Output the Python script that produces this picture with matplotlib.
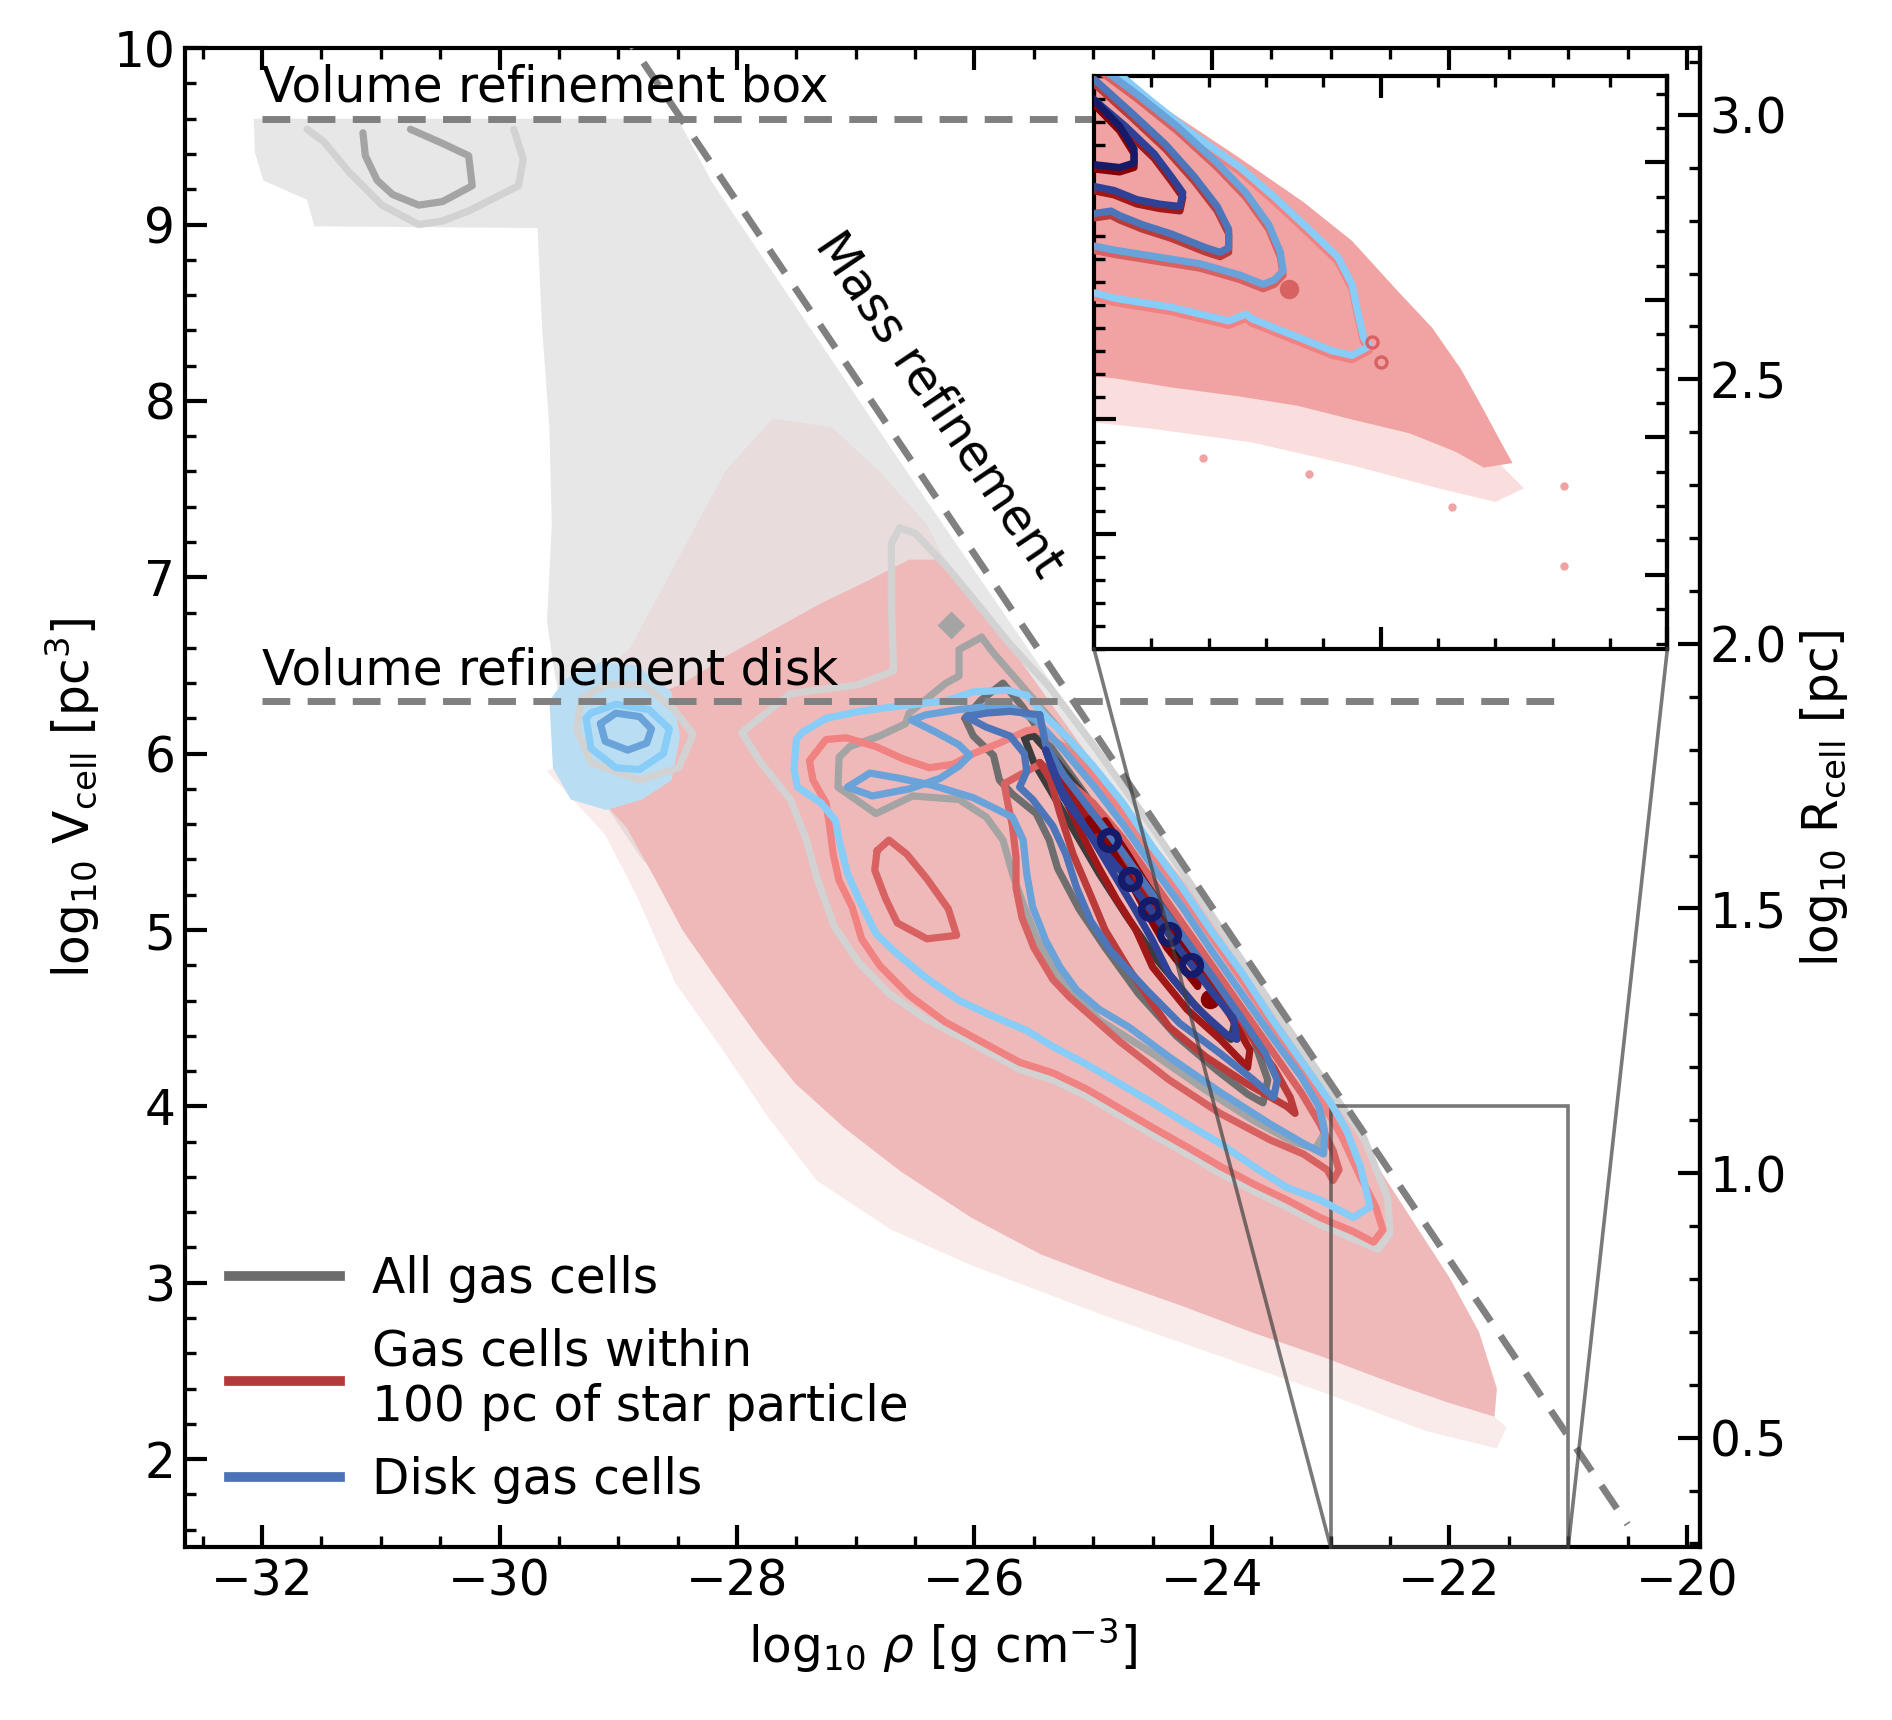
import numpy as np
import matplotlib
matplotlib.use("Agg")
import matplotlib.pyplot as plt
from matplotlib.lines import Line2D
from matplotlib.patches import ConnectionPatch
from matplotlib.ticker import MultipleLocator, FixedLocator
from matplotlib.transforms import offset_copy

# ---------------- values (log rho, log V) ----------------
# scatter clouds, drawn as outlines
gray_cloud = [(-32.07, 9.60), (-32.06, 9.41), (-31.99, 9.25), (-31.62, 9.14), (-31.56, 8.99),
              (-29.68, 8.98), (-29.64, 8.40), (-29.58, 7.85), (-29.56, 7.30), (-29.60, 6.75),
              (-29.54, 6.47), (-29.40, 6.00), (-28.80, 5.40), (-27.80, 4.80), (-26.50, 4.20),
              (-24.50, 3.60), (-23.00, 3.50), (-23.30, 4.36), (-23.60, 4.66), (-24.10, 5.16),
              (-24.70, 5.76), (-25.30, 6.35), (-25.90, 6.94), (-26.57, 7.60), (-27.39, 8.42),
              (-28.21, 9.24), (-28.50, 9.60)]
pink_top = [(-29.50, 6.20), (-29.20, 6.28), (-28.80, 6.30), (-28.45, 6.40), (-28.10, 6.55),
            (-27.70, 6.70), (-27.30, 6.85), (-26.90, 6.98), (-26.55, 7.10), (-26.25, 7.10),
            (-25.90, 6.80), (-25.50, 6.42), (-25.00, 5.95), (-24.50, 5.50), (-24.00, 5.08),
            (-23.50, 4.58), (-23.00, 4.08), (-22.50, 3.55), (-22.00, 3.03), (-21.75, 2.72),
            (-21.60, 2.40)]
pink_bot = [(-21.62, 2.24), (-22.01, 2.32), (-22.48, 2.43), (-23.07, 2.58), (-23.67, 2.72),
            (-24.26, 2.87), (-24.85, 3.01), (-25.44, 3.16), (-26.03, 3.37), (-26.62, 3.63),
            (-27.10, 3.88), (-27.51, 4.13), (-27.81, 4.38), (-28.16, 4.71), (-28.46, 5.00),
            (-28.69, 5.29), (-28.93, 5.58), (-29.20, 5.78), (-29.46, 5.95)]
pink_fringe_low = [(-29.60, 5.90), (-29.11, 5.54), (-28.85, 5.20), (-28.52, 4.70), (-28.10, 4.30),
                   (-27.75, 3.95), (-27.33, 3.58), (-26.70, 3.30), (-26.03, 3.10), (-24.85, 2.80),
                   (-23.07, 2.38), (-22.20, 2.16), (-21.60, 2.06), (-21.52, 2.18)]
pink_fringe_up = [(-29.30, 6.35), (-28.90, 6.60), (-28.50, 7.10), (-28.10, 7.60), (-27.70, 7.90),
                  (-27.20, 7.85), (-26.80, 7.60), (-26.40, 7.30), (-26.25, 7.10), (-26.55, 7.10),
                  (-26.90, 6.98), (-27.30, 6.85), (-27.70, 6.70), (-28.10, 6.55), (-28.45, 6.40),
                  (-28.80, 6.30)]
disk_cloud = [(-29.58, 6.30), (-29.45, 6.42), (-29.15, 6.52), (-28.85, 6.50), (-28.55, 6.35),
              (-28.48, 6.10), (-28.55, 5.85), (-28.80, 5.74), (-29.10, 5.68), (-29.40, 5.74),
              (-29.55, 5.92)]

# refinement criteria
box_level = 9.6
disk_level = 6.3
crit_x = [-32.0, -21.0]
mass_x = [-29.0, -20.5]
mass_v = [10.13, 1.63]

# ---- contours: all gas cells ----
gray_top_lg = [(-31.62, 9.54), (-31.48, 9.47), (-31.27, 9.30), (-30.99, 9.11), (-30.68, 9.00),
               (-30.48, 9.02), (-30.25, 9.08), (-29.84, 9.22), (-29.80, 9.37), (-29.88, 9.54)]
gray_top_mg = [(-31.15, 9.52), (-31.13, 9.39), (-31.03, 9.25), (-30.90, 9.17), (-30.68, 9.11),
               (-30.48, 9.13), (-30.23, 9.22), (-30.26, 9.39), (-30.48, 9.46), (-30.75, 9.54)]
gray_blob = [(-29.31, 6.31), (-29.35, 6.14), (-29.23, 5.95), (-28.82, 5.85), (-28.49, 5.92),
             (-28.37, 6.11), (-28.53, 6.25), (-28.78, 6.39), (-29.11, 6.39)]
lg_big = [(-26.63, 7.28), (-26.70, 7.19), (-26.70, 6.85), (-26.68, 6.47), (-26.98, 6.39),
          (-27.55, 6.34), (-27.96, 6.12), (-27.80, 5.95), (-27.55, 5.74), (-27.42, 5.52),
          (-27.32, 5.28), (-27.18, 5.02), (-26.98, 4.82), (-26.72, 4.64), (-26.42, 4.50),
          (-26.05, 4.37), (-25.62, 4.21), (-25.34, 4.15), (-25.06, 4.06), (-24.78, 3.95),
          (-24.50, 3.84), (-24.21, 3.73), (-23.93, 3.62), (-23.65, 3.52), (-23.37, 3.43),
          (-23.09, 3.33), (-22.81, 3.25), (-22.60, 3.19), (-22.50, 3.28), (-22.52, 3.48),
          (-22.72, 3.82), (-23.05, 4.14), (-23.50, 4.58), (-24.00, 5.08), (-24.50, 5.58),
          (-25.00, 6.05), (-25.37, 6.38), (-25.70, 6.62), (-25.94, 6.82), (-26.22, 7.05),
          (-26.50, 7.25)]
mg_big = [(-25.94, 6.66), (-26.13, 6.59), (-26.13, 6.44), (-26.24, 6.40), (-26.55, 6.23),
          (-26.58, 6.17), (-26.80, 6.10), (-27.05, 6.04), (-27.14, 5.98), (-27.15, 5.81),
          (-26.83, 5.66), (-26.52, 5.76), (-26.13, 5.74), (-25.90, 5.64), (-25.76, 5.51),
          (-25.68, 5.32), (-25.58, 5.13), (-25.48, 4.96), (-25.30, 4.75), (-24.95, 4.49),
          (-24.50, 4.30), (-24.07, 4.10), (-23.65, 3.92), (-23.32, 3.80), (-23.13, 3.76),
          (-23.05, 3.85), (-23.08, 3.98), (-23.25, 4.22), (-23.50, 4.48), (-23.75, 4.72),
          (-24.00, 4.96), (-24.25, 5.20), (-24.50, 5.43), (-24.75, 5.67), (-25.00, 5.90),
          (-25.30, 6.15), (-25.62, 6.40), (-25.84, 6.57)]
dg_big = [(-26.08, 6.20), (-25.95, 6.30), (-25.76, 6.40), (-25.60, 6.27), (-25.37, 6.05),
          (-25.10, 5.80), (-24.85, 5.56), (-24.60, 5.32), (-24.35, 5.08), (-24.10, 4.84),
          (-23.85, 4.60), (-23.65, 4.38), (-23.53, 4.15), (-23.57, 4.02), (-23.70, 4.07),
          (-23.95, 4.20), (-24.30, 4.40), (-24.62, 4.64), (-24.90, 4.90), (-25.12, 5.12),
          (-25.30, 5.35), (-25.37, 5.51), (-25.48, 5.66), (-25.68, 5.77), (-25.79, 5.85),
          (-25.84, 5.99), (-26.01, 6.10)]
g4_big = [(-25.58, 6.09), (-25.50, 5.95), (-25.35, 5.78), (-25.15, 5.55), (-24.95, 5.32),
          (-24.72, 5.08), (-24.45, 4.82), (-24.15, 4.58), (-23.95, 4.44), (-23.84, 4.38),
          (-23.80, 4.50), (-24.00, 4.75), (-24.30, 5.05), (-24.65, 5.38), (-25.00, 5.70),
          (-25.30, 5.95), (-25.50, 6.10)]
g5_x = [-24.95, -24.28]
g5_v = [5.52, 4.86]
gray_dot_x = [-26.20]
gray_dot_v = [6.73]

# ---- contours: gas within 100 pc of a star particle ----
salmon_big = [(-25.48, 6.14), (-25.56, 6.13), (-25.79, 6.06), (-26.01, 6.00), (-26.18, 5.94),
              (-26.38, 5.92), (-26.60, 5.97), (-26.83, 6.04), (-27.08, 6.09), (-27.25, 6.08),
              (-27.39, 5.96), (-27.36, 5.85), (-27.25, 5.72), (-27.22, 5.59), (-27.19, 5.43),
              (-27.14, 5.28), (-27.03, 5.13), (-26.95, 4.95), (-26.80, 4.80), (-26.55, 4.63),
              (-26.25, 4.48), (-25.95, 4.37), (-25.62, 4.25), (-25.34, 4.19), (-25.06, 4.10),
              (-24.78, 3.99), (-24.50, 3.88), (-24.21, 3.77), (-23.93, 3.66), (-23.65, 3.56),
              (-23.37, 3.47), (-23.09, 3.37), (-22.81, 3.29), (-22.64, 3.23), (-22.56, 3.30),
              (-22.62, 3.43), (-22.75, 3.60), (-22.90, 3.82), (-23.05, 4.00), (-23.25, 4.22),
              (-23.50, 4.47), (-23.75, 4.72), (-24.00, 4.96), (-24.25, 5.20), (-24.50, 5.43),
              (-24.75, 5.67), (-25.00, 5.87), (-25.25, 6.04)]
ir_big = [(-25.45, 5.94), (-25.56, 5.90), (-25.75, 5.83), (-25.72, 5.72), (-25.68, 5.59),
          (-25.65, 5.41), (-25.65, 5.24), (-25.60, 5.07), (-25.50, 4.90), (-25.34, 4.72),
          (-25.20, 4.62), (-24.78, 4.37), (-24.36, 4.15), (-23.93, 3.96), (-23.51, 3.81),
          (-23.23, 3.73), (-23.03, 3.64), (-22.98, 3.58), (-22.93, 3.64), (-22.98, 3.75),
          (-23.09, 3.90), (-23.25, 4.08), (-23.50, 4.32), (-23.75, 4.56), (-24.00, 4.80),
          (-24.25, 5.04), (-24.50, 5.28), (-24.75, 5.52), (-25.00, 5.72), (-25.25, 5.86)]
ir_oval = [(-26.82, 5.45), (-26.72, 5.51), (-26.57, 5.43), (-26.40, 5.29), (-26.22, 5.12),
           (-26.15, 4.97), (-26.40, 4.95), (-26.65, 5.04), (-26.75, 5.18), (-26.84, 5.34)]
fb_big = [(-25.45, 5.95), (-25.36, 5.85), (-25.28, 5.66), (-25.17, 5.43), (-25.03, 5.21),
          (-24.90, 5.00), (-24.72, 4.80), (-24.52, 4.60), (-24.36, 4.45), (-24.05, 4.28),
          (-23.71, 4.13), (-23.37, 4.00), (-23.30, 3.96), (-23.34, 4.05), (-23.48, 4.22),
          (-23.70, 4.42), (-23.95, 4.65), (-24.20, 4.88), (-24.45, 5.12), (-24.70, 5.36),
          (-24.95, 5.58), (-25.20, 5.78)]
dr_big = [(-25.30, 5.90), (-25.22, 5.72), (-25.08, 5.52), (-24.95, 5.35), (-24.80, 5.17),
          (-24.64, 5.00), (-24.50, 4.79), (-24.21, 4.55), (-23.93, 4.38), (-23.70, 4.22),
          (-23.68, 4.32), (-23.85, 4.52), (-24.05, 4.72), (-24.25, 4.92), (-24.50, 5.12),
          (-24.75, 5.36), (-25.00, 5.58), (-25.22, 5.80)]
r5_big = [(-24.95, 5.58), (-24.75, 5.35), (-24.55, 5.10), (-24.38, 4.90), (-24.12, 4.68),
          (-24.10, 4.78), (-24.30, 4.98), (-24.50, 5.20), (-24.70, 5.42), (-24.90, 5.62)]
r5_x = [-25.01, -24.02]
r5_v = [5.60, 4.61]

# ---- contours: disk gas cells ----
lb_blob = [(-29.27, 6.20), (-29.23, 6.03), (-29.02, 5.92), (-28.82, 5.91), (-28.62, 6.00),
           (-28.57, 6.14), (-28.74, 6.25), (-29.02, 6.28), (-29.23, 6.23)]
cf_blob = [(-29.15, 6.17), (-29.11, 6.07), (-28.92, 6.02), (-28.76, 6.06), (-28.72, 6.14),
           (-28.82, 6.21), (-29.02, 6.23)]
lb_big = [(-27.25, 6.20), (-26.97, 6.24), (-26.63, 6.27), (-26.24, 6.30), (-26.01, 6.35),
          (-25.72, 6.36), (-25.56, 6.33), (-25.40, 6.21), (-25.20, 6.08), (-25.00, 5.93),
          (-24.75, 5.72), (-24.50, 5.47), (-24.25, 5.24), (-24.00, 4.99), (-23.75, 4.76),
          (-23.50, 4.50), (-23.25, 4.26), (-23.00, 4.02), (-22.87, 3.87), (-22.75, 3.66),
          (-22.70, 3.52), (-22.67, 3.43), (-22.81, 3.37), (-23.09, 3.47), (-23.37, 3.54),
          (-23.65, 3.66), (-23.93, 3.79), (-24.21, 3.90), (-24.50, 4.02), (-24.78, 4.13),
          (-25.06, 4.24), (-25.34, 4.34), (-25.56, 4.43), (-25.84, 4.51), (-26.13, 4.60),
          (-26.41, 4.73), (-26.66, 4.87), (-26.83, 4.98), (-26.97, 5.17), (-27.07, 5.32),
          (-27.14, 5.51), (-27.17, 5.62), (-27.29, 5.72), (-27.49, 5.81), (-27.52, 5.91),
          (-27.50, 6.08), (-27.45, 6.12)]
cf_big = [(-25.48, 6.19), (-25.68, 6.26), (-25.84, 6.27), (-26.13, 6.25), (-26.41, 6.22),
          (-26.53, 6.19), (-26.32, 6.12), (-26.13, 6.05), (-26.04, 5.99), (-26.13, 5.93),
          (-26.29, 5.86), (-26.55, 5.80), (-26.86, 5.76), (-27.07, 5.81), (-26.88, 5.89),
          (-26.63, 5.86), (-26.35, 5.82), (-26.01, 5.75), (-25.68, 5.64), (-25.59, 5.51),
          (-25.56, 5.32), (-25.51, 5.13), (-25.40, 4.94), (-25.28, 4.79), (-25.14, 4.66),
          (-24.95, 4.55), (-24.70, 4.45), (-24.36, 4.28), (-23.93, 4.08), (-23.51, 3.90),
          (-23.23, 3.79), (-23.06, 3.73), (-23.05, 3.85), (-23.10, 4.00), (-23.25, 4.17),
          (-23.50, 4.40), (-23.75, 4.64), (-24.00, 4.88), (-24.25, 5.13), (-24.50, 5.36),
          (-24.75, 5.60), (-25.00, 5.82), (-25.25, 6.02)]
sb_big = [(-25.45, 6.22), (-25.70, 6.24), (-25.90, 6.23), (-26.07, 6.21), (-25.90, 6.15),
          (-25.70, 6.10), (-25.58, 6.00), (-25.56, 5.90), (-25.62, 5.81), (-25.51, 5.74),
          (-25.34, 5.59), (-25.23, 5.43), (-25.14, 5.24), (-25.02, 5.05), (-24.85, 4.88),
          (-24.55, 4.66), (-24.27, 4.47), (-23.93, 4.30), (-23.65, 4.15), (-23.48, 4.05),
          (-23.45, 4.15), (-23.55, 4.30), (-23.75, 4.50), (-24.00, 4.74), (-24.25, 4.97),
          (-24.50, 5.20), (-24.75, 5.44), (-25.00, 5.66), (-25.25, 5.88), (-25.40, 6.05)]
db_big = [(-25.40, 6.02), (-25.34, 5.92), (-25.28, 5.81), (-25.14, 5.66), (-25.00, 5.51),
          (-24.83, 5.32), (-24.66, 5.13), (-24.50, 4.94), (-24.36, 4.75), (-24.13, 4.56),
          (-23.88, 4.41), (-23.79, 4.38), (-23.82, 4.50), (-24.00, 4.65), (-24.25, 4.87),
          (-24.50, 5.10), (-24.75, 5.32), (-25.00, 5.52), (-25.25, 5.75), (-25.35, 5.92)]
nv_x = [-24.87, -24.69, -24.52, -24.36, -24.18]
nv_v = [5.51, 5.29, 5.12, 4.98, 4.80]

# ---- zoomed inset (-23 < log rho < -21) ----
in_pink = [(-23.10, 4.10), (-22.93, 4.00), (-22.73, 3.84), (-22.49, 3.64), (-22.27, 3.45),
           (-22.10, 3.28), (-21.94, 3.06), (-21.82, 2.90), (-21.72, 2.72), (-21.64, 2.54),
           (-21.58, 2.40), (-21.54, 2.31), (-21.64, 2.29), (-21.74, 2.36), (-21.90, 2.44),
           (-22.10, 2.50), (-22.29, 2.56), (-22.49, 2.60), (-22.73, 2.64), (-22.93, 2.68),
           (-23.10, 2.70)]
in_fringe = [(-23.10, 2.72), (-22.93, 2.70), (-22.73, 2.66), (-22.49, 2.62), (-22.29, 2.58),
             (-22.10, 2.52), (-21.90, 2.46), (-21.74, 2.38), (-21.58, 2.30), (-21.50, 2.20),
             (-21.60, 2.14), (-21.80, 2.20), (-22.10, 2.30), (-22.45, 2.40), (-22.80, 2.46),
             (-23.10, 2.50)]
in_dot_x = [-21.36, -21.36, -22.62, -22.25, -21.75]
in_dot_v = [2.21, 1.86, 2.33, 2.26, 2.12]
in_lb = [(-22.96, 4.06), (-22.81, 3.90), (-22.67, 3.76), (-22.49, 3.60), (-22.37, 3.47),
         (-22.25, 3.33), (-22.15, 3.21), (-22.10, 3.09), (-22.08, 2.97), (-22.06, 2.86),
         (-22.04, 2.82), (-22.10, 2.78), (-22.17, 2.80), (-22.25, 2.84), (-22.37, 2.90),
         (-22.45, 2.94), (-22.47, 2.96), (-22.53, 2.93), (-22.63, 2.96), (-22.73, 2.99),
         (-22.83, 3.01), (-22.93, 3.03), (-23.05, 3.07)]
in_cf = [(-22.99, 4.05), (-22.85, 3.92), (-22.71, 3.78), (-22.57, 3.62), (-22.47, 3.49),
         (-22.39, 3.35), (-22.35, 3.23), (-22.34, 3.15), (-22.37, 3.11), (-22.41, 3.09),
         (-22.49, 3.13), (-22.63, 3.18), (-22.73, 3.20), (-22.83, 3.22), (-22.93, 3.24),
         (-23.05, 3.27)]
in_sb = [(-23.03, 4.02), (-22.87, 3.84), (-22.75, 3.70), (-22.65, 3.56), (-22.57, 3.43),
         (-22.53, 3.33), (-22.53, 3.25), (-22.56, 3.23), (-22.61, 3.25), (-22.73, 3.31),
         (-22.83, 3.35), (-22.91, 3.39), (-22.94, 3.41), (-23.05, 3.39)]
in_db = [(-23.05, 3.95), (-22.89, 3.78), (-22.79, 3.66), (-22.73, 3.56), (-22.69, 3.49),
         (-22.70, 3.43), (-22.77, 3.44), (-22.85, 3.46), (-22.93, 3.50), (-23.05, 3.53)]
in_nv = [(-23.05, 3.96), (-22.91, 3.78), (-22.86, 3.68), (-22.86, 3.62), (-22.91, 3.60),
         (-23.05, 3.62)]
in_red_x = [-22.32]
in_red_v = [3.07]
in_ring_x = [-22.03, -22.00]
in_ring_v = [2.84, 2.75]

# colours
c_gray_cloud, c_pink, c_pink_in, c_disk = "#e7e7e7", "#f0b9b9", "#f1a3a3", "#b9def3"
c_lg, c_mg, c_dg, c_g4, c_g5 = "#d2d2d2", "#a4a4a4", "#6e6e6e", "#3c3c3c", "#111111"
c_s, c_ir, c_fb, c_dr, c_r5 = "#f08282", "#d86262", "#bb3b3b", "#a01818", "#880000"
c_lb, c_cf, c_sb, c_db, c_nv = "#87cdf8", "#6aa2da", "#4d75ba", "#2f4196", "#161b69"

FS = 17.5
LW = 2.6


def v2r(v):
    return (v - np.log10(4 * np.pi / 3)) / 3


def r2v(r):
    return 3 * r + np.log10(4 * np.pi / 3)


def fill(a, pts, color, z, alpha=1.0):
    xs, ys = zip(*pts)
    a.fill(xs, ys, color=color, lw=0, zorder=z, alpha=alpha)


def line(a, pts, color, z, closed=True, lw=LW, **kw):
    xs, ys = map(list, zip(*pts))
    if closed:
        xs.append(xs[0])
        ys.append(ys[0])
    a.plot(xs, ys, color=color, lw=lw, zorder=z, solid_joinstyle="round",
           solid_capstyle="round", **kw)


fig = plt.figure(figsize=(9.46, 8.6), dpi=200)
ax = fig.add_axes([0.0977, 0.1004, 0.8008, 0.8716])

# clouds
fill(ax, gray_cloud, c_gray_cloud, 1)
fill(ax, pink_fringe_up, c_pink, 1.5, alpha=0.22)
fill(ax, pink_bot + pink_fringe_low, c_pink, 1.5, alpha=0.28)
fill(ax, pink_top + pink_bot, c_pink, 2)
fill(ax, disk_cloud, c_disk, 2.5)

# all gas contours
line(ax, gray_top_lg, c_lg, 3, closed=False)
line(ax, gray_top_mg, c_mg, 3, closed=False)
line(ax, gray_blob, c_lg, 3)
for pts, c in [(lg_big, c_lg), (mg_big, c_mg), (dg_big, c_dg), (g4_big, c_g4)]:
    line(ax, pts, c, 3)
ax.plot(g5_x, g5_v, ls="none", marker="o", ms=5, color=c_g5, zorder=3)
ax.plot(gray_dot_x, gray_dot_v, ls="none", marker="D", ms=6, color=c_mg, zorder=3)

# star-particle contours
for pts, c in [(salmon_big, c_s), (ir_big, c_ir), (ir_oval, c_ir), (fb_big, c_fb),
               (dr_big, c_dr), (r5_big, c_r5)]:
    line(ax, pts, c, 4)
ax.plot(r5_x, r5_v, ls="none", marker="o", ms=6, color=c_r5, zorder=4)

# disk contours
for pts, c in [(lb_blob, c_lb), (cf_blob, c_cf), (lb_big, c_lb), (cf_big, c_cf),
               (sb_big, c_sb), (db_big, c_db)]:
    line(ax, pts, c, 5)
ax.plot(nv_x, nv_v, ls="none", marker="o", ms=6.5, mfc="none", mec=c_nv, mew=2.6, zorder=5)

# refinement criteria
dash = dict(color="#808080", lw=2.5, dashes=(4, 2.5), zorder=6)
ax.plot(crit_x, [box_level, box_level], **dash)
ax.plot(crit_x, [disk_level, disk_level], **dash)
ax.plot(mass_x, mass_v, **dash)
ax.text(-32.0, 9.70, "Volume refinement box", fontsize=FS, va="baseline", zorder=7)
ax.text(-32.0, 6.39, "Volume refinement disk", fontsize=FS, va="baseline", zorder=7)
ax.text(-26.3, 7.98, "Mass refinement", fontsize=FS, rotation=-56, rotation_mode="anchor",
        ha="center", va="center", zorder=7)

ax.set_xlim(-32.65, -19.89)
ax.set_ylim(1.5, 10)
ax.set_xlabel(r"log$_{10}$ $\rho$ [g cm$^{-3}$]", fontsize=FS)
ax.set_ylabel(r"log$_{10}$ V$_{\rm cell}$ [pc$^3$]", fontsize=FS)
ax.xaxis.set_major_locator(MultipleLocator(2))
ax.xaxis.set_minor_locator(MultipleLocator(0.5))
ax.yaxis.set_major_locator(MultipleLocator(1))
ax.yaxis.set_minor_locator(MultipleLocator(0.2))
ax.tick_params(which="both", direction="in", top=True, right=False, labelsize=FS)
ax.tick_params(which="major", length=8, width=1.5)
ax.tick_params(which="minor", length=4, width=1.2)
for s in ax.spines.values():
    s.set_linewidth(1.5)

sec = ax.secondary_yaxis("right", functions=(v2r, r2v))
sec.yaxis.set_major_locator(MultipleLocator(0.5))
sec.yaxis.set_minor_locator(MultipleLocator(0.1))
sec.tick_params(which="both", direction="in", labelsize=FS)
sec.tick_params(which="major", length=8, width=1.5)
sec.tick_params(which="minor", length=4, width=1.2)
sec.spines["right"].set_linewidth(1.5)
sec.set_ylabel(r"log$_{10}$ R$_{\rm cell}$ [pc]", fontsize=FS)

handles = [Line2D([], [], color="#6b6b6b", lw=3.5),
           Line2D([], [], color="#b33a3a", lw=3.5),
           Line2D([], [], color="#4d72b6", lw=3.5)]
labels = ["All gas cells", "Gas cells within\n100 pc of star particle", "Disk gas cells"]
leg = ax.legend(handles, labels, loc="lower left", frameon=False, fontsize=FS,
                handlelength=2.3, handletextpad=0.65, labelspacing=0.5)
leg.set_zorder(8)

# inset, drawn above the dashed criteria lines
axins = ax.inset_axes([0.600, 0.5995, 0.3785, 0.382])
axins.set_zorder(10)
fill(axins, in_pink, c_pink_in, 1)
fill(axins, in_fringe, c_pink_in, 1, alpha=0.35)
axins.plot(in_dot_x, in_dot_v, ls="none", marker="o", ms=2, color=c_pink_in, zorder=1)
shift = offset_copy(axins.transData, fig=fig, x=0, y=-1.6, units="points")
for pts, cb, cr in [(in_lb, c_lb, c_s), (in_cf, c_cf, c_ir), (in_sb, c_sb, c_fb),
                    (in_db, c_db, c_dr), (in_nv, c_nv, c_r5)]:
    line(axins, pts, cr, 3, closed=False, transform=shift)
    line(axins, pts, cb, 4, closed=False)
axins.plot(in_red_x, in_red_v, ls="none", marker="o", ms=6, color=c_ir, zorder=3)
axins.plot(in_ring_x, in_ring_v, ls="none", marker="o", ms=4, mfc="none", mec=c_ir,
           mew=1.2, zorder=4)
axins.set_xlim(-23, -21)
axins.set_ylim(1.5, 4)
axins.xaxis.set_major_locator(MultipleLocator(1))
axins.xaxis.set_minor_locator(MultipleLocator(0.2))
axins.yaxis.set_major_locator(FixedLocator([2.0, 2.5]))
axins.yaxis.set_minor_locator(MultipleLocator(0.1))
axins.tick_params(which="both", direction="in", top=True, bottom=True, left=True,
                  right=False, labelbottom=False, labelleft=False)
axins.tick_params(which="major", length=8, width=1.5)
axins.tick_params(which="minor", length=4, width=1.2)
for s in axins.spines.values():
    s.set_linewidth(1.5)
isec = axins.secondary_yaxis("right", functions=(v2r, r2v))
isec.yaxis.set_major_locator(MultipleLocator(0.2))
isec.yaxis.set_minor_locator(MultipleLocator(0.05))
isec.tick_params(which="both", direction="in", labelright=False)
isec.tick_params(which="major", length=8, width=1.5)
isec.tick_params(which="minor", length=4, width=1.2)
isec.spines["right"].set_linewidth(1.5)

# zoom indicator: rectangle on the main axes plus two connectors to the inset
x0, x1 = axins.get_xlim()
y0, y1 = axins.get_ylim()
ax.indicate_inset([x0, y0, x1 - x0, y1 - y0], edgecolor="#404040", alpha=0.7, linewidth=1.3)
for corner_main, corner_ins in [((x0, y0), (0, 0)), ((x1, y0), (1, 0))]:
    cp = ConnectionPatch(xyA=corner_main, coordsA=ax.transData, xyB=corner_ins,
                         coordsB=axins.transAxes, color="#404040", alpha=0.7, lw=1.3)
    fig.add_artist(cp)

fig.savefig("out.png", dpi=200)
